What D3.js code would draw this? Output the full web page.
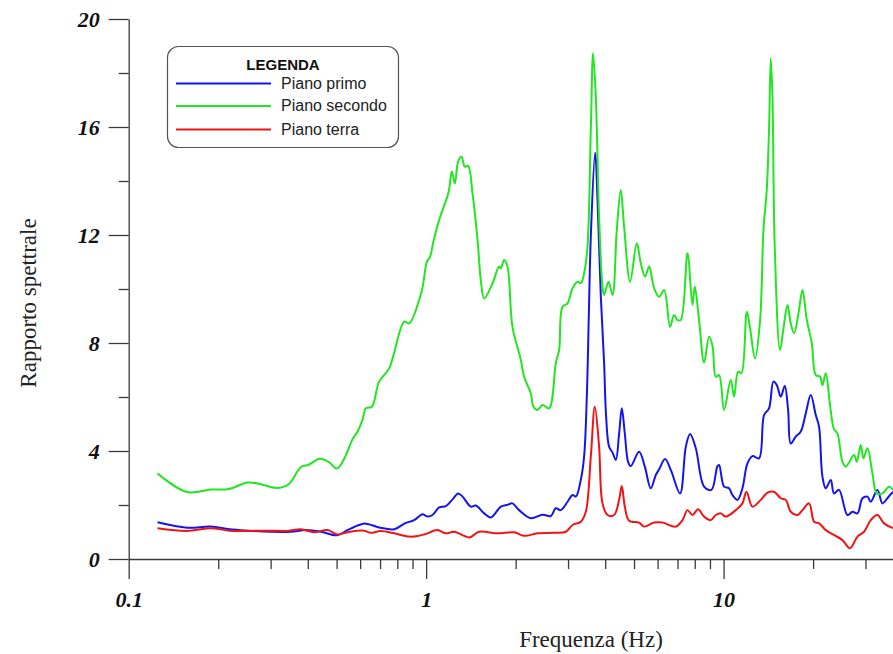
<!DOCTYPE html>
<html>
<head>
<meta charset="utf-8">
<script src="https://cdn.jsdelivr.net/npm/d3@7"></script>
<style>
  body { margin: 0; background: #fff; }
  svg { display: block; }
</style>
</head>
<body>
<div id="grafico"></div>
<script>
// Rapporto spettrale per piano
const primoFreq = [0.125, 0.157, 0.189, 0.218, 0.251, 0.301, 0.351, 0.394, 0.443, 0.502, 0.544, 0.595, 0.627, 0.695, 0.781, 0.848, 0.911, 0.972, 1.006, 1.051, 1.106, 1.165, 1.227, 1.281, 1.326, 1.413, 1.469, 1.567, 1.650, 1.783, 1.877, 1.951, 2.054, 2.248, 2.462, 2.626, 2.729, 2.836, 2.988, 3.106, 3.186, 3.311, 3.397, 3.469, 3.523, 3.578, 3.700, 3.777, 3.867, 3.966, 4.027, 4.122, 4.233, 4.342, 4.455, 4.548, 4.655, 4.775, 4.876, 5.200, 5.435, 5.692, 5.917, 6.072, 6.359, 6.645, 7.142, 7.466, 7.719, 8.065, 8.601, 9.105, 9.539, 9.659, 10.04, 10.43, 10.71, 11.14, 11.57, 12.03, 12.51, 13.16, 13.68, 14.22, 14.71, 15.10, 15.57, 16.06, 16.48, 16.82, 17.48, 18.18, 18.90, 19.64, 20.42, 20.94, 21.50, 22.06, 22.93, 23.51, 24.44, 26.09, 27.13, 28.19, 29.31, 30.46, 31.25, 32.91, 34.21, 35.55, 37.34, 40];
const primoVal = [1.36, 1.16, 1.20, 1.10, 1.05, 1.01, 1.01, 1.07, 1.01, 0.88, 1.07, 1.26, 1.31, 1.17, 1.10, 1.32, 1.44, 1.66, 1.58, 1.63, 1.91, 1.96, 2.21, 2.43, 2.31, 1.94, 1.98, 1.69, 1.54, 1.94, 2.01, 2.06, 1.81, 1.51, 1.64, 1.59, 1.88, 1.81, 2.12, 2.37, 2.31, 2.93, 3.79, 6.0, 9.0, 11.94, 15.05, 13.0, 9.71, 7.25, 5.3, 4.16, 3.94, 3.67, 4.65, 5.58, 4.65, 3.60, 3.44, 3.97, 3.42, 2.62, 3.11, 3.32, 3.70, 3.30, 2.43, 4.16, 4.63, 4.10, 2.68, 2.56, 3.44, 3.48, 2.68, 2.62, 2.37, 2.19, 2.62, 3.54, 3.81, 3.73, 5.33, 5.58, 6.57, 6.44, 6.01, 6.41, 5.52, 4.28, 4.53, 4.72, 5.40, 6.07, 5.33, 4.90, 3.05, 2.62, 2.93, 2.43, 2.56, 1.63, 1.75, 1.69, 2.25, 2.31, 2.12, 2.56, 2.06, 2.25, 2.49, 2.5];

const secondoFreq = [0.125, 0.157, 0.189, 0.217, 0.251, 0.276, 0.314, 0.345, 0.379, 0.403, 0.439, 0.471, 0.501, 0.529, 0.566, 0.588, 0.611, 0.627, 0.657, 0.695, 0.751, 0.844, 0.877, 0.965, 1.006, 1.031, 1.064, 1.115, 1.189, 1.220, 1.249, 1.281, 1.315, 1.349, 1.384, 1.432, 1.489, 1.527, 1.567, 1.672, 1.759, 1.783, 1.829, 1.877, 1.951, 2.082, 2.135, 2.248, 2.296, 2.368, 2.462, 2.591, 2.729, 2.800, 2.874, 2.988, 3.106, 3.229, 3.311, 3.397, 3.487, 3.578, 3.642, 3.719, 3.815, 3.917, 3.966, 4.104, 4.233, 4.375, 4.513, 4.630, 4.851, 5.109, 5.270, 5.448, 5.620, 5.842, 6.072, 6.310, 6.609, 6.817, 6.998, 7.180, 7.564, 7.862, 8.003, 8.273, 8.601, 8.941, 9.180, 9.415, 9.659, 10.04, 10.57, 10.85, 11.19, 11.48, 11.97, 12.28, 12.76, 13.27, 13.62, 13.97, 14.22, 14.41, 14.60, 14.86, 15.48, 15.90, 16.40, 16.82, 17.26, 17.86, 18.42, 19.05, 19.80, 20.42, 21.11, 21.50, 22.06, 22.80, 23.51, 24.14, 25.10, 25.75, 27.46, 28.04, 28.92, 29.53, 30.46, 31.66, 32.73, 34.21, 36.00, 37.34, 40];
const secondoVal = [3.17, 2.48, 2.57, 2.59, 2.83, 2.78, 2.63, 2.77, 3.40, 3.49, 3.71, 3.59, 3.35, 3.69, 4.44, 4.72, 5.15, 5.58, 5.64, 6.57, 7.06, 8.79, 8.73, 9.90, 11.01, 11.20, 11.88, 12.68, 13.57, 14.35, 13.91, 14.72, 14.90, 14.53, 14.56, 13.54, 11.81, 10.33, 9.65, 10.21, 10.83, 10.77, 11.07, 10.83, 8.60, 7.37, 6.75, 6.14, 5.64, 5.52, 5.70, 5.58, 7.25, 7.74, 9.34, 9.47, 10.03, 10.27, 10.21, 10.58, 11.57, 15.89, 18.73, 17.12, 12.68, 10.09, 9.78, 10.27, 9.78, 12.19, 13.67, 12.31, 10.27, 11.69, 10.95, 10.46, 10.83, 10.03, 9.71, 9.96, 8.60, 9.04, 8.85, 8.85, 11.32, 9.41, 10.09, 8.85, 7.28, 8.23, 7.90, 6.75, 6.81, 5.52, 6.63, 6.01, 6.94, 6.88, 9.16, 8.54, 7.43, 8.85, 12.19, 13.67, 15.89, 18.54, 17.12, 11.57, 7.74, 8.54, 9.41, 8.73, 8.36, 9.10, 9.96, 8.85, 7.99, 6.81, 6.75, 6.44, 6.88, 5.70, 4.81, 4.65, 3.60, 3.42, 3.85, 3.60, 4.22, 3.73, 4.10, 3.17, 2.43, 2.43, 2.68, 2.56, 2.6];

const terraFreq = [0.125, 0.157, 0.189, 0.218, 0.293, 0.342, 0.379, 0.420, 0.466, 0.504, 0.544, 0.619, 0.652, 0.704, 0.781, 0.877, 0.936, 0.998, 1.092, 1.165, 1.242, 1.395, 1.507, 1.738, 1.976, 2.135, 2.368, 2.693, 2.949, 3.106, 3.311, 3.442, 3.578, 3.691, 3.815, 3.917, 4.072, 4.285, 4.455, 4.548, 4.655, 4.812, 5.200, 5.404, 5.842, 6.232, 6.908, 7.275, 7.564, 7.862, 8.210, 8.601, 9.057, 9.415, 9.786, 10.17, 10.99, 11.57, 11.94, 12.51, 13.34, 14.05, 14.78, 15.57, 16.19, 16.82, 17.72, 18.42, 19.39, 20.15, 20.94, 22.06, 23.51, 25.10, 26.62, 28.19, 29.67, 31.25, 32.91, 34.63, 37.34, 40];
const terraVal = [1.14, 1.04, 1.14, 1.05, 1.05, 1.04, 1.10, 0.99, 1.07, 0.91, 0.99, 1.05, 0.97, 1.04, 0.95, 0.83, 0.85, 0.93, 1.07, 0.95, 1.01, 0.80, 1.01, 0.95, 0.99, 0.86, 0.95, 0.97, 1.01, 1.26, 1.38, 1.75, 3.79, 5.64, 4.16, 2.06, 1.63, 1.63, 2.19, 2.70, 1.94, 1.42, 1.35, 1.20, 1.35, 1.35, 1.20, 1.44, 1.81, 1.63, 1.84, 1.57, 1.44, 1.63, 1.69, 1.57, 1.81, 2.06, 2.49, 1.94, 2.19, 2.46, 2.49, 2.25, 2.19, 1.75, 1.63, 1.81, 2.06, 1.38, 1.32, 1.07, 0.89, 0.70, 0.40, 0.83, 1.01, 1.44, 1.63, 1.32, 1.14, 1.1];

const serie = [
  { nome: "Piano primo", freq: primoFreq, val: primoVal, colore: "#1414f0" },
  { nome: "Piano secondo", freq: secondoFreq, val: secondoVal, colore: "#22e622" },
  { nome: "Piano terra", freq: terraFreq, val: terraVal, colore: "#f01414" }
];

const yTicks = [0, 4, 8, 12, 16, 20];
const yMinor = [2, 6, 10, 14, 18];
const xTicks = [0.1, 1, 10];
const xTickLabels = ["0.1", "1", "10"];
const xMinor = [0.2, 0.3, 0.4, 0.5, 0.6, 0.7, 0.8, 0.9, 2, 3, 4, 5, 6, 7, 8, 9, 20, 30, 40, 50];

const width = 893, height = 654;
const x = d3.scaleLog().domain([0.1, 100]).range([128.7, 1021]);
const y = d3.scaleLinear().domain([0, 20]).range([559, 19]);

const svg = d3.select("#grafico")
  .append("svg")
  .attr("width", width)
  .attr("height", height);

const fontNum = "'Liberation Serif', 'Times New Roman', serif";

// Asse X: tacche minori e maggiori
const gxMin = svg.append("g")
  .attr("transform", `translate(0,${y(0)})`)
  .call(d3.axisBottom(x).tickValues(xMinor).tickSize(10).tickFormat(""));
gxMin.select(".domain").remove();

const gx = svg.append("g")
  .attr("transform", `translate(0,${y(0)})`)
  .call(d3.axisBottom(x).tickValues(xTicks).tickSize(20).tickSizeOuter(0).tickPadding(12)
    .tickFormat((d, i) => xTickLabels[i]));

// Asse Y
const gyMin = svg.append("g")
  .attr("transform", `translate(${x(0.1)},0)`)
  .call(d3.axisLeft(y).tickValues(yMinor).tickSize(10).tickFormat(""));
gyMin.select(".domain").remove();

const gy = svg.append("g")
  .attr("transform", `translate(${x(0.1)},0)`)
  .call(d3.axisLeft(y).tickValues(yTicks).tickSize(20).tickSizeOuter(0).tickPadding(9));

svg.selectAll(".domain, .tick line")
  .attr("stroke", "#3a3a3a")
  .attr("stroke-width", 1.3);

svg.selectAll(".tick text")
  .attr("fill", "#111")
  .style("font-family", fontNum)
  .style("font-size", "22px")
  .style("font-weight", "bold")
  .style("font-style", "italic");

// Curve
const linea = d3.line()
  .x(d => x(d[0]))
  .y(d => y(d[1]))
  .curve(d3.curveCatmullRom.alpha(0.5));

serie.forEach(s => {
  const punti = s.freq.map((f, i) => [f, s.val[i]]);
  svg.append("path")
    .datum(punti)
    .attr("fill", "none")
    .attr("stroke", s.colore)
    .attr("stroke-width", 2)
    .attr("stroke-linejoin", "round")
    .attr("d", linea);
});

// Legenda
const leg = svg.append("g");
leg.append("rect")
  .attr("x", 167.5).attr("y", 46.5)
  .attr("width", 231).attr("height", 101)
  .attr("rx", 11).attr("ry", 11)
  .attr("fill", "#fff")
  .attr("stroke", "#555")
  .attr("stroke-width", 1.2);

leg.append("text")
  .attr("x", 283).attr("y", 70)
  .attr("text-anchor", "middle")
  .style("font-family", "'Liberation Sans', Arial, sans-serif")
  .style("font-size", "15px")
  .style("font-weight", "bold")
  .attr("fill", "#111")
  .text("LEGENDA");

const legY = [83.5, 106, 129.5];
serie.forEach((s, i) => {
  leg.append("line")
    .attr("x1", 176).attr("x2", 271)
    .attr("y1", legY[i]).attr("y2", legY[i])
    .attr("stroke", s.colore)
    .attr("stroke-width", 2);
  leg.append("text")
    .attr("x", 281).attr("y", legY[i] + 5)
    .style("font-family", "'Liberation Sans', Arial, sans-serif")
    .style("font-size", "16px")
    .attr("fill", "#222")
    .text(s.nome);
});

// Etichette degli assi
svg.append("text")
  .attr("x", 591)
  .attr("y", 647)
  .attr("text-anchor", "middle")
  .style("font-family", fontNum)
  .style("font-size", "23px")
  .attr("fill", "#222")
  .text("Frequenza (Hz)");

svg.append("text")
  .attr("transform", "translate(36,303) rotate(-90)")
  .attr("text-anchor", "middle")
  .style("font-family", fontNum)
  .style("font-size", "23px")
  .attr("fill", "#222")
  .text("Rapporto spettrale");
</script>
</body>
</html>
